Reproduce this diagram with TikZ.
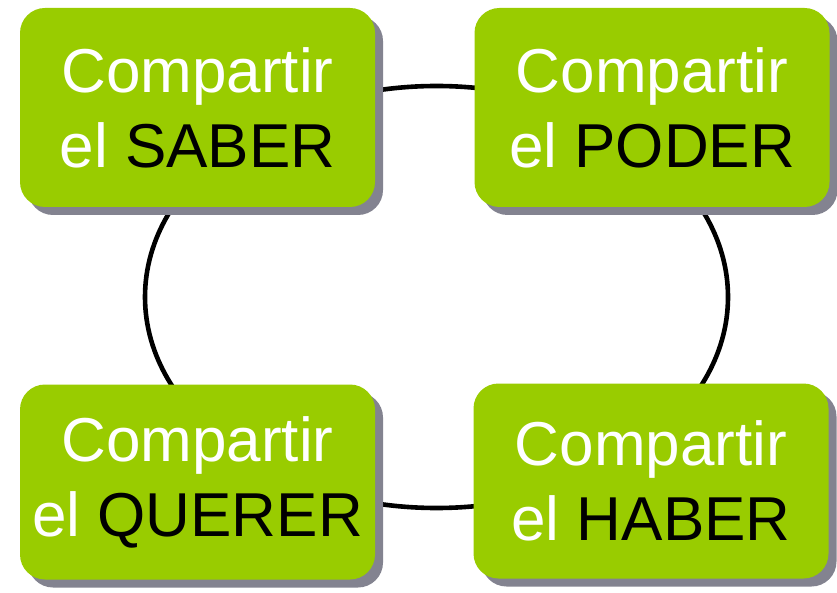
\documentclass[tikz,border=0pt]{standalone}
\usepackage{fontspec}
\setmainfont{Liberation Sans}
\usetikzlibrary{shadows}
\definecolor{boxgreen}{HTML}{99CC00}
\definecolor{shadowgrey}{HTML}{838390}
\begin{document}
\begin{tikzpicture}[x=1pt,y=1pt,
  greenbox/.style={draw=none, fill=boxgreen, rounded corners=25pt,
    minimum width=355pt, inner sep=0pt, align=center,
    text=white, font=\fontsize{62}{75}\selectfont,
    drop shadow={shadow xshift=8pt, shadow yshift=-8pt, fill=shadowgrey, opacity=1}},
  ring/.style={draw=black, line width=4.6pt}]
\useasboundingbox (0,0) rectangle (837,592);
\fill[white] (0,0) rectangle (837,592);
\draw[ring] (436.5,295) ellipse [x radius=291.5, y radius=211];
\node[greenbox, minimum height=199pt] (saber) at (197.5,484.5) {Compartir\\el \textcolor{black}{SABER}};
\node[greenbox, minimum height=199pt] (poder) at (652,484.5) {Compartir\\el \textcolor{black}{PODER}};
\node[greenbox, minimum height=195pt] (querer) at (197.5,110) {Compartir\\el \textcolor{black}{QUERER}};
\node[greenbox, minimum height=195pt] (haber) at (651,111) {Compartir\\el \textcolor{black}{HABER}};
\end{tikzpicture}
\end{document}
